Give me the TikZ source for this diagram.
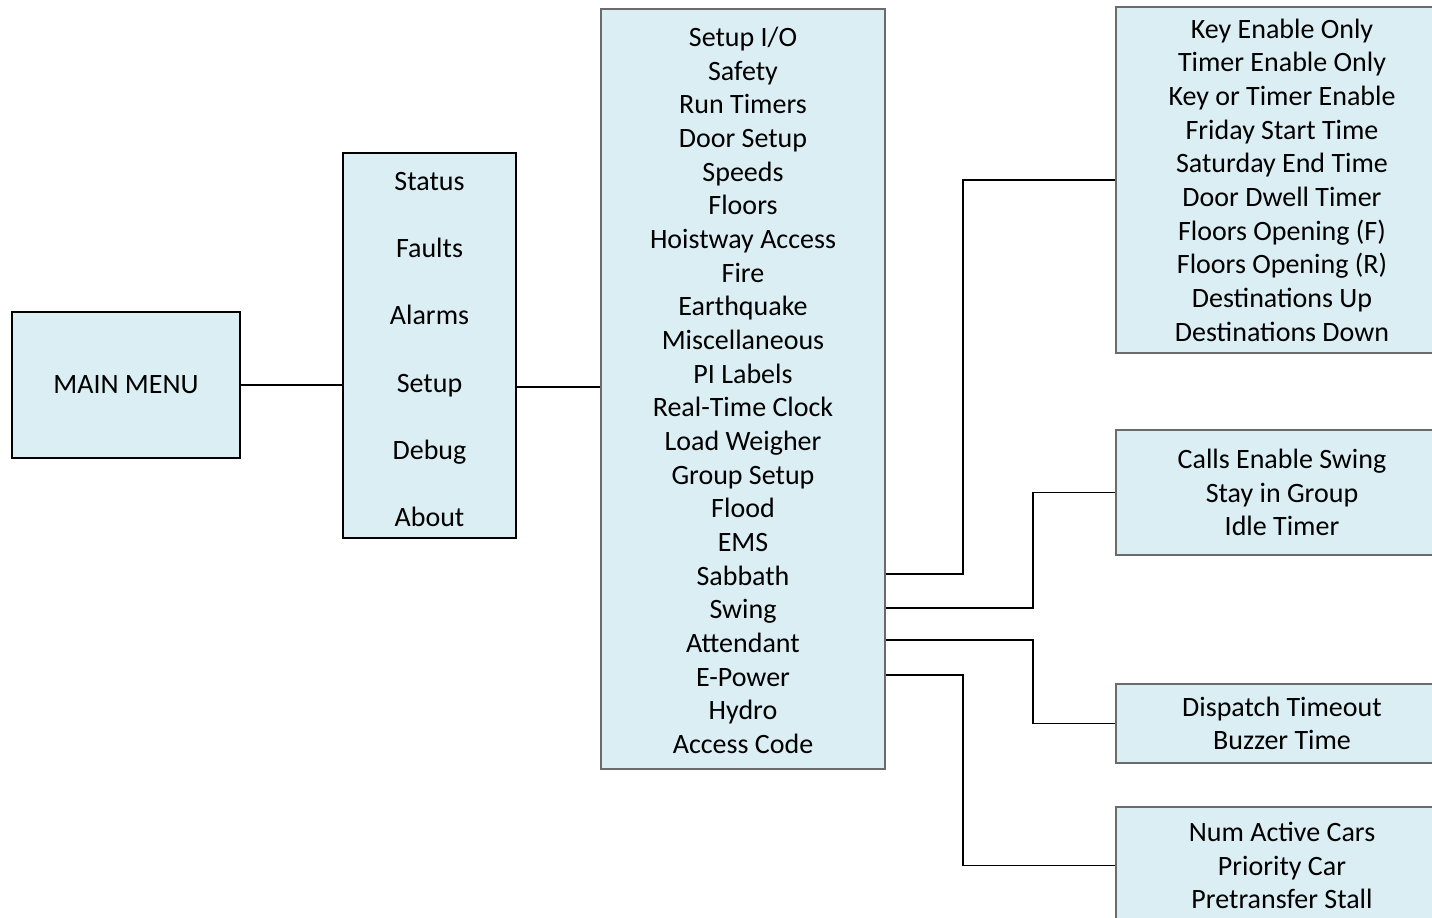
\documentclass[tikz,border=0pt]{standalone}
\usepackage{fontspec}
\setmainfont{Carlito}
\definecolor{boxfill}{HTML}{DAEEF3}
\definecolor{boxgray}{HTML}{6B6B6B}
\begin{document}
\begin{tikzpicture}[x=1pt,y=-1pt,
  darkbox/.style={draw=black,line width=1.8pt,fill=boxfill,inner sep=0pt,align=center,
    font=\fontsize{28}{33.67}\selectfont},
  lightbox/.style={draw=boxgray,line width=1.2pt,fill=boxfill,inner sep=0pt,align=center,
    font=\fontsize{28}{33.67}\selectfont},
  conn/.style={draw=black,line width=1.8pt}]
\clip (0,0) rectangle (1432,918);
\fill[white] (0,0) rectangle (1432,918);

\node[darkbox,minimum width=228pt,minimum height=146pt] (main) at (126,385) {\raisebox{-2pt}{MAIN MENU}};
\node[darkbox,minimum width=173pt,minimum height=385pt] (menu) at (429.5,345.5) {};
\node[inner sep=0pt,align=center,font=\fontsize{28}{67.2}\selectfont] (menutext) at (429.5,349.5)
  {Status\\Faults\\Alarms\\Setup\\Debug\\About};
\node[lightbox,minimum width=284pt,minimum height=760pt] (setup) at (743,389)
  {};
\node[inner sep=0pt,align=center,font=\fontsize{28}{33.67}\selectfont] (setuptext) at (743,390.5)
  {Setup I/O\\Safety\\Run Timers\\Door Setup\\Speeds\\Floors\\Hoistway Access\\Fire\\Earthquake\\Miscellaneous\\PI Labels\\Real-Time Clock\\Load Weigher\\Group Setup\\Flood\\EMS\\Sabbath\\Swing\\Attendant\\E-Power\\Hydro\\Access Code};
\node[lightbox,minimum width=332pt,minimum height=346pt] (sabbox) at (1282,180)
  {Key Enable Only\\Timer Enable Only\\Key or Timer Enable\\Friday Start Time\\Saturday End Time\\Door Dwell Timer\\Floors Opening (F)\\Floors Opening (R)\\Destinations Up\\Destinations Down};
\node[lightbox,minimum width=332pt,minimum height=125pt] (swbox) at (1282,492.5)
  {Calls Enable Swing\\Stay in Group\\Idle Timer};
\node[lightbox,minimum width=332pt,minimum height=79pt] (attbox) at (1282,723.5)
  {Dispatch Timeout\\Buzzer Time};
\node[lightbox,minimum width=332pt,minimum height=117pt] (epbox) at (1282,865.5)
  {Num Active Cars\\Priority Car\\Pretransfer Stall};

\coordinate (setrow) at (menu.east |- 0,387);
\coordinate (sabrow) at (setup.east |- 0,574);
\coordinate (swrow) at (setup.east |- 0,608);
\coordinate (attrow) at (setup.east |- 0,640);
\coordinate (eprow) at (setup.east |- 0,675);
\coordinate (sabbend) at (963,574);
\coordinate (swbend) at (1033,608);
\coordinate (attbend) at (1033,640);
\coordinate (epbend) at (963,675);

\draw[conn] (main.east) -- (main.east -| menu.west);
\draw[conn] (setrow) -- (setrow -| setup.west);
\draw[conn] (sabrow) -- (sabbend) |- (sabbox.west);
\draw[conn] (swrow) -- (swbend) |- (swbox.west);
\draw[conn] (attrow) -- (attbend) |- (attbox.west);
\draw[conn] (eprow) -- (epbend) |- (epbox.west);
\end{tikzpicture}
\end{document}
